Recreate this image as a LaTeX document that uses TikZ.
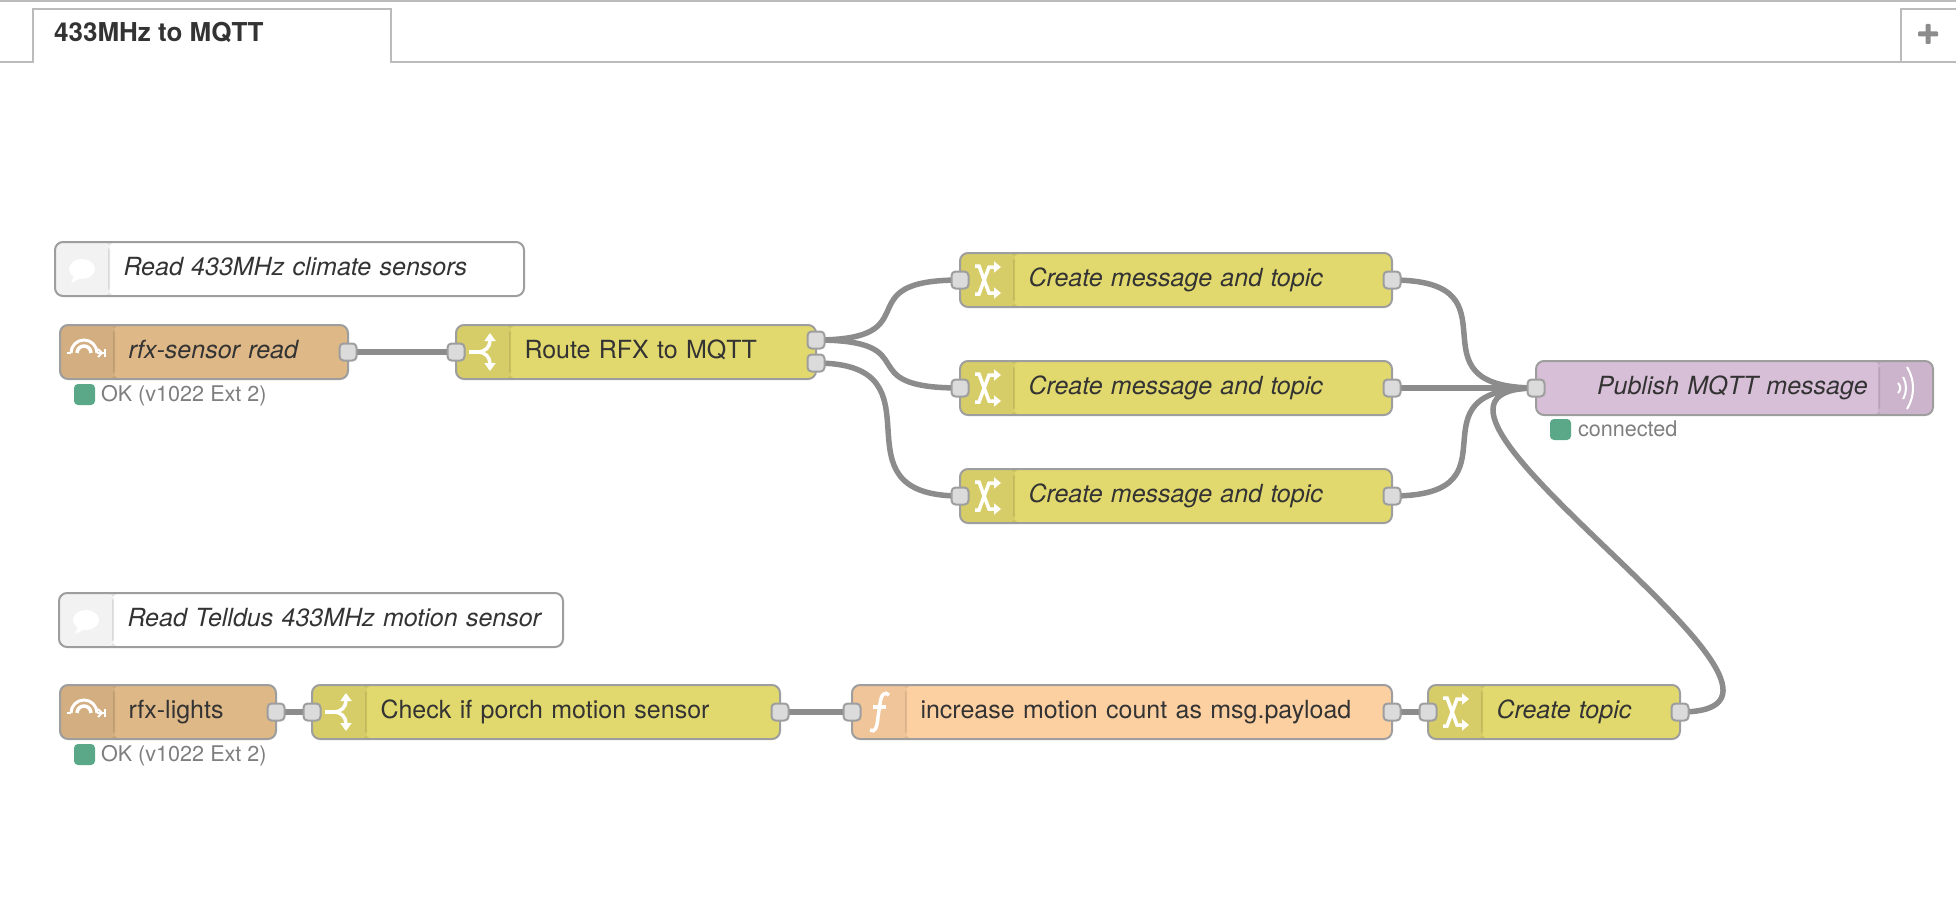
\documentclass[tikz,border=0pt]{standalone}
\usepackage{fontspec}
\setmainfont{TeX Gyre Heros}
\usetikzlibrary{arrows.meta, positioning, backgrounds}
\definecolor{nodeline}{HTML}{9E9E9E}
\definecolor{wiregray}{HTML}{8C8C8C}
\definecolor{tabline}{HTML}{BBBBBB}
\definecolor{textdark}{HTML}{333333}
\definecolor{statusgreen}{HTML}{5AA888}
\definecolor{sensorfill}{HTML}{DEB887}
\definecolor{switchfill}{HTML}{E2D96E}
\definecolor{funcfill}{HTML}{FDD0A2}
\definecolor{mqttfill}{HTML}{D8BFD8}
\tikzset{
    flow/.style={rectangle, draw=nodeline, line width=2pt, rounded corners=8pt, outer sep=0pt, inner xsep=0pt, inner ysep=0pt,
        minimum height=54pt, text height=18pt, text depth=6pt, align=left, text=textdark,
        font=\fontsize{25}{30}\selectfont},
    textskip/.style={execute at begin node={\hspace*{#1}}},
    leftstrip/.style={path picture={
        \fill[black, opacity=.05] (path picture bounding box.south west) rectangle ([xshift=54pt]path picture bounding box.north west);
        \fill[black, opacity=.1] ([xshift=53pt]path picture bounding box.south west) rectangle ([xshift=55pt]path picture bounding box.north west);}},
    rightstrip/.style={path picture={
        \fill[black, opacity=.05] (path picture bounding box.south east) rectangle ([xshift=-54pt]path picture bounding box.north east);
        \fill[black, opacity=.1] ([xshift=-53pt]path picture bounding box.south east) rectangle ([xshift=-55pt]path picture bounding box.north east);}},
    sensor/.style={flow, textskip=68.5pt, leftstrip, fill=sensorfill},
    switch/.style={flow, textskip=68.5pt, leftstrip, fill=switchfill},
    func/.style={flow, textskip=68.5pt, leftstrip, fill=funcfill},
    note/.style={flow, textskip=68.5pt, leftstrip, fill=white},
    mqtt/.style={flow, textskip=61pt, rightstrip, fill=mqttfill},
    port/.style={rectangle, draw=nodeline, fill=black!14, line width=2pt, rounded corners=4pt, minimum size=17pt, inner sep=0pt, outer sep=0pt},
    statusdot/.style={rectangle, fill=statusgreen, rounded corners=4pt, minimum size=21pt, inner sep=0pt, outer sep=0pt},
    statustext/.style={inner sep=0pt, outer sep=0pt, yshift=-1pt, text=wiregray!90!black, text height=16pt, text depth=5pt, font=\fontsize{21.6}{26}\selectfont},
    wire/.style={draw=wiregray, line width=5.5pt},
    iconline/.style={draw=white, line width=3.5pt},
    pics/forkicon/.style={code={
        \draw[iconline] (-14,0) -- (-5,0);
        \draw[iconline, -{Triangle[length=8pt, width=11pt]}] (-5,0) .. controls (2,0) and (7,-5) .. (7,-19);
        \draw[iconline, -{Triangle[length=8pt, width=11pt]}] (-5,0) .. controls (2,0) and (7,5) .. (7,19);}},
    pics/shuffleicon/.style={code={
        \draw[iconline, -{Triangle[length=7pt, width=11pt]}] (-12,14) -- (-8,14) -- (2,-13) -- (14,-13);
        \draw[iconline, -{Triangle[length=7pt, width=11pt]}] (-12,-14) -- (-8,-14) -- (2,13) -- (14,13);}},
    pics/rfxicon/.style={code={
        \draw[iconline, line width=2pt] (-17,0) -- (-13,0);
        \draw[iconline, line width=3pt] (-13,0) arc[start angle=180, end angle=360, radius=13];
        \draw[iconline, line width=2pt] (13,0) -- (21,0);
        \draw[iconline, line width=3.5pt] (-7,0) arc[start angle=180, end angle=360, radius=7];
        \draw[iconline, line width=2pt] (21,-4) -- (21,4);
        \draw[iconline, line width=2pt] (14,-4) -- (18,0) -- (14,4);}},
    pics/funcicon/.style={code={
        \draw[iconline] (-9,18) .. controls (-4,21) and (-2,16) .. (-1,5) -- (1,-8) .. controls (2,-18) and (6,-21) .. (10,-17);
        \draw[iconline] (-6,-5) -- (7,-5);}},
    pics/noteicon/.style={code={
        \fill[white] (0,0) ellipse[x radius=13, y radius=10];
        \fill[white] (-7,5) -- (-11,14) -- (1,8) -- cycle;}},
    pics/waveicon/.style={code={
        \draw[iconline, line width=2pt] (-8,-5) .. controls (-5,-2) and (-5,2) .. (-8,5);
        \draw[iconline, line width=2pt] (-3,-11) .. controls (1,-4) and (1,4) .. (-3,11);
        \draw[iconline, line width=2pt] (1,-21) .. controls (9,-8) and (9,8) .. (1,21);}}
}
\begin{document}
\begin{tikzpicture}[x=1pt, y=-1pt]
        \useasboundingbox (0,0) rectangle (1956,912);

        % Tab bar
        \draw [tabline, line width=2.5pt] (0,1) -- (1956,1);
        \draw [tabline, line width=2pt] (0,62) -- (33,62) -- (33,9) -- (391,9) -- (391,62) -- (1956,62);
        \draw [tabline, line width=2pt] (1956,9) -- (1901,9) -- (1901,62);
        \node (tab_label) [anchor=base west, inner sep=0pt, text=textdark, font=\fontsize{26}{30}\selectfont\bfseries] at (54,42) {433MHz to MQTT};
        \fill [wiregray, rounded corners=1pt] (1918,31.5) rectangle (1938,36.5);
        \fill [wiregray, rounded corners=1pt] (1925.5,24) rectangle (1930.5,44);

        % Climate row
        \node (C_note) [note, anchor=west, text width=469pt] at (55,269) {\textit{Read 433MHz climate sensors}};
        \node (C_read) [sensor, anchor=west, text width=288pt] at (60,352) {\textit{rfx-sensor read}};
        \node (C_route) [switch, right=108pt of C_read, text width=360pt] {Route RFX to MQTT};
        \node (C_msg1) [switch, right=144pt of C_route, yshift=72pt, text width=432pt] {\textit{Create message and topic}};
        \node (C_msg2) [switch, right=144pt of C_route, yshift=-36pt, text width=432pt] {\textit{Create message and topic}};
        \node (C_msg3) [switch, right=144pt of C_route, yshift=-144pt, text width=432pt] {\textit{Create message and topic}};
        \node (P_mqtt) [mqtt, right=144pt of C_msg2, text width=397pt] {\textit{Publish MQTT message}};

        % Motion row
        \node (M_note) [note, anchor=west, text width=504pt] at (59,620) {\textit{Read Telldus 433MHz motion sensor}};
        \node (M_read) [sensor, anchor=west, text width=216pt] at (60,712) {rfx-lights};
        \node (M_check) [switch, right=36pt of M_read, text width=468pt] {Check if porch motion sensor};
        \node (M_count) [func, right=72pt of M_check, text width=540pt] {increase motion count as msg.payload};
        \node (M_topic) [switch, right=36pt of M_count, text width=252pt] {\textit{Create topic}};

        % Ports
        \node (C_read_out) [port] at (C_read.east) {};
        \node (C_route_in) [port] at (C_route.west) {};
        \node (C_route_a) [port, yshift=12pt] at (C_route.east) {};
        \node (C_route_b) [port, yshift=-11pt] at (C_route.east) {};
        \node (C_msg1_in) [port] at (C_msg1.west) {};
        \node (C_msg2_in) [port] at (C_msg2.west) {};
        \node (C_msg3_in) [port] at (C_msg3.west) {};
        \node (C_msg1_out) [port] at (C_msg1.east) {};
        \node (C_msg2_out) [port] at (C_msg2.east) {};
        \node (C_msg3_out) [port] at (C_msg3.east) {};
        \node (P_mqtt_in) [port] at (P_mqtt.west) {};
        \node (M_read_out) [port] at (M_read.east) {};
        \node (M_check_in) [port] at (M_check.west) {};
        \node (M_check_out) [port] at (M_check.east) {};
        \node (M_count_in) [port] at (M_count.west) {};
        \node (M_count_out) [port] at (M_count.east) {};
        \node (M_topic_in) [port] at (M_topic.west) {};
        \node (M_topic_out) [port] at (M_topic.east) {};

        % Status
        \node (C_dot) [statusdot, below right=5pt and 14pt of C_read.south west] {};
        \node (C_status) [statustext, right=6pt of C_dot] {OK (v1022 Ext 2)};
        \node (M_dot) [statusdot, below right=5pt and 14pt of M_read.south west] {};
        \node (M_status) [statustext, right=6pt of M_dot] {OK (v1022 Ext 2)};
        \node (P_dot) [statusdot, below right=4pt and 14pt of P_mqtt.south west] {};
        \node (P_status) [statustext, right=7pt of P_dot] {connected};

        % Icons
        \pic at ([xshift=27pt]C_note.west) {noteicon};
        \pic at ([xshift=27pt]M_note.west) {noteicon};
        \pic at ([xshift=24pt, yshift=-1pt]C_read.west) {rfxicon};
        \pic at ([xshift=24pt, yshift=-1pt]M_read.west) {rfxicon};
        \pic at ([xshift=27pt]C_route.west) {forkicon};
        \pic at ([xshift=27pt]M_check.west) {forkicon};
        \pic at ([xshift=27pt]C_msg1.west) {shuffleicon};
        \pic at ([xshift=27pt]C_msg2.west) {shuffleicon};
        \pic at ([xshift=27pt]C_msg3.west) {shuffleicon};
        \pic at ([xshift=27pt]M_topic.west) {shuffleicon};
        \pic at ([xshift=27pt]M_count.west) {funcicon};
        \pic at ([xshift=-27pt]P_mqtt.east) {waveicon};

        % Wires
        \begin{scope}[on background layer]
            \draw [wire] (C_read_out.center) -- (C_route_in.center);
            \draw [wire] (C_route_a.center) .. controls +(117,0) and +(-117,0) .. (C_msg1_in.center);
            \draw [wire] (C_route_a.center) .. controls +(114,0) and +(-114,0) .. (C_msg2_in.center);
            \draw [wire] (C_route_b.center) .. controls +(135,0) and +(-135,0) .. (C_msg3_in.center);
            \draw [wire] (C_msg1_out.center) .. controls +(135,0) and +(-135,0) .. (P_mqtt_in.center);
            \draw [wire] (C_msg2_out.center) -- (P_mqtt_in.center);
            \draw [wire] (C_msg3_out.center) .. controls +(135,0) and +(-135,0) .. (P_mqtt_in.center);
            \draw [wire] (M_read_out.center) -- (M_check_in.center);
            \draw [wire] (M_check_out.center) -- (M_count_in.center);
            \draw [wire] (M_count_out.center) -- (M_topic_in.center);
            \draw [wire] (M_topic_out.center) .. controls +(193,0) and +(-193,0) .. (P_mqtt_in.center);
        \end{scope}
    \end{tikzpicture}
\end{document}
